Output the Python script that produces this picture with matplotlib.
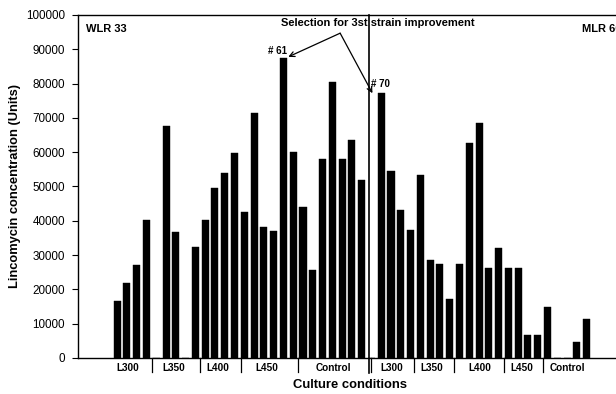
import matplotlib
matplotlib.use("Agg")
import matplotlib.pyplot as plt
import matplotlib.transforms as mtransforms

plt.rcParams["font.family"] = ["Liberation Sans", "DejaVu Sans"]

# Lincomycin titre per culture slot (0 = empty slot between groups)
lincomycin = [
    16500, 22000, 27200, 40100, 0, 67600, 36700, 0,
    32300, 40100, 49500, 54000, 59900, 42600, 71300, 38200,
    37000, 87400, 60000, 44000, 25800, 57900, 80600, 57900,
    63700, 52000, 0, 77300, 54500, 43100, 37200, 53300,
    28500, 27300, 17200, 27500, 62700, 68400, 26300, 32000,
    26300, 26300, 6700, 6700, 14800, 0, 0, 4600, 11400,
]

# Culture-condition groups along the x axis
group_names = ["L300", "L350", "L400", "L450", "Control",
               "L300", "L350", "L400", "L450", "Control"]
group_centers = [1.1, 5.8, 10.3, 15.3, 22.1, 28.1, 32.2, 37.1, 41.4, 46.0]
group_bounds = [3.6, 8.5, 12.7, 18.5, 26.0, 30.4, 34.4, 39.5, 43.5]

# Strain series and selected isolates
strain_divider = 25.7
selected = {"# 61": 17, "# 70": 27}

y_ticks = list(range(0, 100001, 10000))

fig = plt.figure(figsize=(6.16, 3.94), dpi=100)
ax = fig.add_axes([78 / 616, 36 / 394, 538 / 616, 343 / 394])

positions = list(range(len(lincomycin)))
ax.bar(positions, lincomycin, width=0.72, color="black", edgecolor="black",
       linewidth=0.3)

ax.set_xlim(-4.0, 51.0)
ax.set_ylim(0, 100000)
ax.set_yticks(y_ticks)
ax.set_yticklabels([str(t) for t in y_ticks], fontsize=8.4)
ax.tick_params(axis="y", direction="out", length=4, width=0.8, pad=5.5)
ax.set_xticks([])

for side in ("left", "bottom", "top"):
    ax.spines[side].set_linewidth(1.0)
    ax.spines[side].set_color("black")
ax.spines["right"].set_visible(False)

# Group separators and labels below the axis
xtrans = mtransforms.blended_transform_factory(ax.transData, ax.transAxes)
for b in group_bounds:
    ax.plot([b, b], [0, -0.04], color="black", lw=0.9, transform=xtrans,
            clip_on=False)
for name, c in zip(group_names, group_centers):
    ax.text(c, -0.028, name, transform=xtrans, ha="center", va="center",
            fontsize=7.2, fontweight="bold")

# Divider between the two strain series
ax.plot([strain_divider, strain_divider], [-0.045, 1.0], color="black",
        lw=1.2, transform=xtrans, clip_on=False)

ax.text(-3.2, 96000, "WLR 33", fontsize=8, fontweight="bold",
        ha="left", va="center")
ax.text(47.5, 96000, "MLR 60", fontsize=8, fontweight="bold",
        ha="left", va="center", clip_on=False)

ax.text(26.6, 97800, "Selection for 3st strain improvement", fontsize=8,
        fontweight="bold", ha="center", va="center")

# Labels and arrows for the selected isolates
label_pos = {"# 61": (16.4, 89500), "# 70": (26.9, 79900)}
arrow_tip = {"# 61": (17.5, 87800), "# 70": (26.1, 77200)}
apex = (22.8, 94700)
for name, idx in selected.items():
    lx, ly = label_pos[name]
    ax.text(lx, ly, name, fontsize=7, fontweight="bold",
            ha="center", va="center")
    ax.annotate("", xy=arrow_tip[name], xytext=apex,
                arrowprops=dict(arrowstyle="->", color="black", lw=0.9,
                                shrinkA=0, shrinkB=0, mutation_scale=9))

ax.set_ylabel("Lincomycin concentration (Units)", fontsize=9.3,
              fontweight="bold")
ax.yaxis.set_label_coords(-57 / 538, 0.5)
ax.set_xlabel("Culture conditions", fontsize=9.4, fontweight="bold")
ax.xaxis.set_label_coords(272 / 538, -21 / 343)

fig.savefig("out.png", dpi=100)
